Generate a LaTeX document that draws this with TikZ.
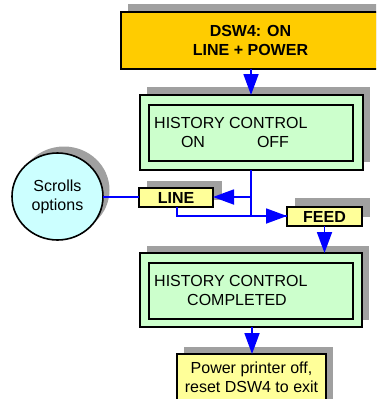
\documentclass[tikz,border=0pt]{standalone}
\usepackage{fontspec}
\setmainfont{Liberation Sans}
\usetikzlibrary{arrows.meta,calc,shapes.geometric}
\definecolor{gold}{HTML}{FFCC00}
\definecolor{lgreen}{HTML}{CCFFCC}
\definecolor{lyellow}{HTML}{FFFF99}
\definecolor{lcyan}{HTML}{CCFFFF}
\definecolor{shadowgray}{HTML}{A0A0A0}
\definecolor{conblue}{HTML}{0000FF}
\tikzset{
  box/.style={draw=black, line width=1.6pt, inner sep=0pt, outer sep=0pt},
  txt/.style={inner sep=0pt, font=\fontsize{16}{19}\selectfont},
  con/.style={draw=conblue, line width=1.8pt},
  arr/.style={con, -{Triangle[length=21pt,width=15pt]}},
}
\begin{document}
\begin{tikzpicture}[x=1pt,y=-1pt]
\useasboundingbox (0,0) rectangle (376,399);
\clip (0,0) rectangle (376,399);
% shadows
\fill[shadowgray] (128,4) rectangle (387,61);
\fill[shadowgray] (147,87) rectangle (370,162);
\fill[shadowgray] (147,246) rectangle (369,320);
\fill[shadowgray] (184,347) rectangle (333,410);
\fill[shadowgray] (147,181) rectangle (222,200);
\fill[shadowgray] (295,198) rectangle (370,217);
\fill[shadowgray] (64,190) ellipse (45.5pt and 43.5pt);
% boxes
\node[box, fill=gold, minimum width=259pt, minimum height=57pt] (top) at (250.5,40.5) {};
\node[txt, font=\fontsize{16}{19}\selectfont\bfseries, align=center] (toptxt) at (250.5,40.5) {DSW4: ON\\LINE + POWER};
\node[box, fill=lgreen, minimum width=223pt, minimum height=75pt] (hc1) at (251.5,132.5) {};
\node[box, fill=lgreen, minimum width=204pt, minimum height=56pt] (hc1in) at (251,133) {};
\node[txt, anchor=west] (hc1a) at (154,123) {HISTORY CONTROL};
\node[txt] (hc1on) at (193,142) {ON};
\node[txt] (hc1off) at (273,142) {OFF};
\node[box, fill=lgreen, minimum width=222pt, minimum height=74pt] (hc2) at (251,290) {};
\node[box, fill=lgreen, minimum width=204pt, minimum height=56pt] (hc2in) at (251,291) {};
\node[txt, anchor=west] (hc2a) at (154,281) {HISTORY CONTROL};
\node[txt] (hc2b) at (237,300) {COMPLETED};
\node[box, fill=lyellow, minimum width=74pt, minimum height=19pt] (linebox) at (176,197.5) {};
\node[txt, font=\fontsize{16}{19}\selectfont\bfseries] (linetxt) at (176,197.5) {LINE};
\node[box, fill=lyellow, minimum width=75pt, minimum height=19pt] (feedbox) at (324.5,216.5) {};
\node[txt, font=\fontsize{16}{19}\selectfont\bfseries] (feedtxt) at (324.5,216.5) {FEED};
\node[box, fill=lyellow, minimum width=149pt, minimum height=62pt] (power) at (251.5,385) {};
\node[txt, align=center] (powertxt) at (251.5,377.5) {Power printer off,\\reset DSW4 to exit};
\node[box, fill=lcyan, ellipse, minimum width=91pt, minimum height=87pt] (scrollc) at (57.5,196.5) {};
\node[txt, align=center] (scroll) at (57.5,197) {Scrolls\\options};
% connectors
\coordinate (j1) at (251,197);
\coordinate (j2) at (251,216);
\coordinate (j3) at (177,216);
\draw[arr] (top.south -| 251,0) -- (hc1.north -| 251,0);
\draw[con] (hc1.south -| j1) -- (j2);
\draw[arr] (j1) -- (linebox.east |- j1);
\draw[con] (linebox.south -| j3) -- (j3) -- (feedbox.west |- j3);
\draw[arr] (j3) -- (feedbox.west |- j3);
\draw[con] (scrollc.east |- 0,197) -- (linebox.west |- 0,197);
\draw[arr] (feedbox.south) -- (hc2.north -| feedbox.south);
\draw[arr] (hc2.south -| 252,0) -- (power.north -| 252,0);
\end{tikzpicture}
\end{document}
